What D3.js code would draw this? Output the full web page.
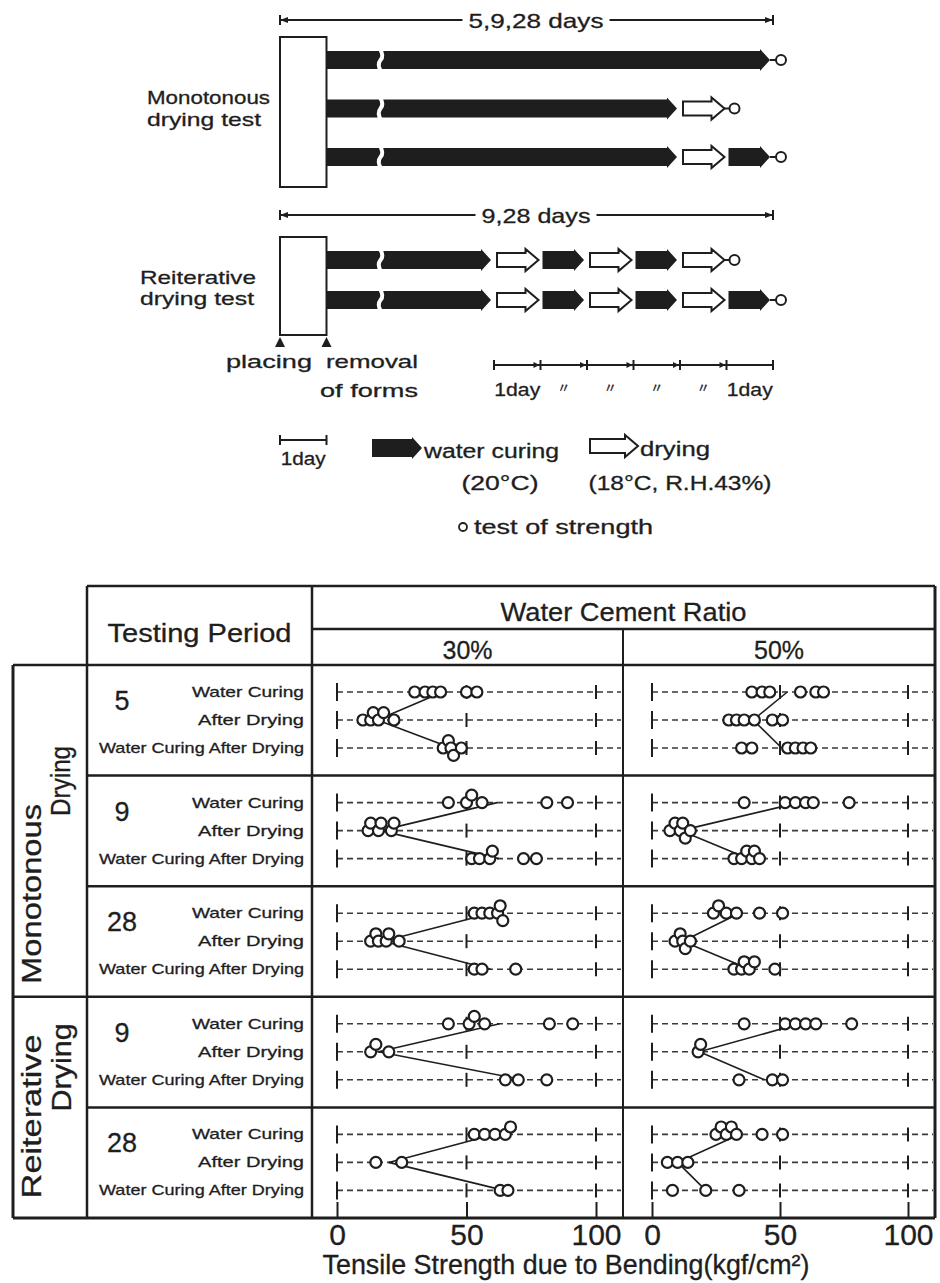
<!DOCTYPE html>
<html><head><meta charset="utf-8">
<script src="https://cdn.jsdelivr.net/npm/d3@7/dist/d3.min.js"></script>
<style>
body{margin:0;background:#fff;}
svg{display:block;}
text{font-family:"Liberation Sans","DejaVu Sans",sans-serif;fill:#1e1e1e;stroke:#1e1e1e;stroke-width:0.3;}
</style></head><body>
<svg id="chart" width="940" height="1283"></svg>
<script>
// ---------------- DATA ----------------
// top schedule diagram (segment sequence per specimen, days before the common end)
const monoSchedules = [["water"], ["water","dry"], ["water","dry","water"]];
const monoEndDay = [0, 1, 0];
const reitSchedules = [["water","dry","water","dry","water","dry"], ["water","dry","water","dry","water","dry","water"]];
const reitEndDay = [1, 0];
const dayScaleLabels = ["1day","〃","〃","〃","〃","1day"];

// table
const groupLabels = [["Monotonous","Drying"], ["Reiterative","Drying"]];
const periodLabels = ["5","9","28","9","28"];
const conditions = ["Water Curing","After Drying","Water Curing After Drying"];
const ratios = ["30%","50%"];
const axisTicks = [0,50,100];

// tensile strength due to bending (kgf/cm2): [Water Curing, After Drying, Water Curing After Drying]
const mono5_30  = [[30,34,37,40,50,54],[10,13,14,16,18,22],[41,43,44,45,48]];
const mono9_30  = [[43,50,52,56,81,89],[12,13,16,17,21,22],[52,55,59,60,72,77]];
const mono28_30 = [[53,56,59,62,63,64],[13,15,16,19,20,24],[53,56,69]];
const reit9_30  = [[43,51,53,57,82,91],[13,15,20],[65,70,81]];
const reit28_30 = [[53,57,61,65,67],[15,25],[63,66]];
const mono5_50  = [[39,43,46,58,64,67],[30,33,36,40,47,51],[35,39,53,56,59,62]];
const mono9_50  = [[36,52,56,60,63,77],[7,9,11,12,13,15],[32,35,37,39,40,42]];
const mono28_50 = [[24,26,29,33,42,51],[9,11,12,13,15],[32,35,36,38,40,48]];
const reit9_50  = [[36,52,56,60,64,78],[18,19],[34,47,51]];
const reit28_50 = [[25,27,29,31,33,43,51],[6,10,14],[8,21,34]];
const tableData = [[mono5_30,mono5_50],[mono9_30,mono9_50],[mono28_30,mono28_50],[reit9_30,reit9_50],[reit28_30,reit28_50]];

// ---------------- DRAW ----------------
const svg = d3.select("#chart");
const ink = "#1e1e1e";

function txt(g, x, y, s, size, opts) {
  opts = opts || {};
  const t = g.append("text").attr("x", x).attr("y", y).text(s)
    .attr("font-size", size).attr("text-anchor", opts.anchor || "start");
  if (opts.len) t.attr("textLength", opts.len).attr("lengthAdjust", "spacingAndGlyphs");
  if (opts.rotate) t.attr("transform", `rotate(-90,${x},${y})`);
  return t;
}

// ---- top diagram
const topG = svg.append("g");
const dayPx = 46.5, xPlace = 280, xFinish = 773;
const fromEnd = d3.scaleLinear().domain([0, 1]).range([xFinish, xFinish - dayPx]);
const fromStart = d3.scaleLinear().domain([0, 1]).range([xPlace, xPlace + dayPx]);

function waterShape(x0, x1, y) {
  return `M${x0},${y-9}L${x1-10},${y-9}L${x1-10},${y-11}L${x1},${y}L${x1-10},${y+11}L${x1-10},${y+9}L${x0},${y+9}Z`;
}
function dryShape(x0, x1, y) {
  return `M${x0},${y-7}L${x1-13},${y-7}L${x1-13},${y-11}L${x1},${y}L${x1-13},${y+11}L${x1-13},${y+7}L${x0},${y+7}Z`;
}
function drawSchedule(segs, endDay, y) {
  const n = segs.length;
  segs.forEach((type, i) => {
    const x1 = fromEnd(endDay + (n - 1 - i));
    const x0 = i === 0 ? fromStart(1) : fromEnd(endDay + (n - i));
    if (type === "water") {
      topG.append("path").attr("d", waterShape(x0 + (i === 0 ? 0 : 2), x1 - 3, y)).attr("fill", ink);
    } else {
      topG.append("path").attr("d", dryShape(x0 + 3, x1 - 2, y)).attr("fill", "#fff")
        .attr("stroke", ink).attr("stroke-width", 2);
    }
    if (i === 0) {
      const bx = fromStart(1) + 53;
      topG.append("path").attr("d", `M${bx},${y-12}Q${bx+5},${y-4} ${bx+1},${y}Q${bx-3},${y+5} ${bx+2},${y+12}`)
        .attr("fill", "none").attr("stroke", "#fff").attr("stroke-width", 4);
    }
  });
  const xe = fromEnd(endDay);
  topG.append("line").attr("x1", xe - 3).attr("x2", xe + 3).attr("y1", y).attr("y2", y).attr("stroke", ink).attr("stroke-width", 2);
  topG.append("circle").attr("cx", xe + 8).attr("cy", y).attr("r", 5).attr("fill", "#fff").attr("stroke", ink).attr("stroke-width", 2);
}
function dimLine(y, label, labelLen) {
  const x0 = fromStart(0), x1 = fromEnd(0);
  topG.append("line").attr("x1", x0).attr("x2", x1).attr("y1", y).attr("y2", y).attr("stroke", ink).attr("stroke-width", 2);
  [x0, x1].forEach(x => topG.append("line").attr("x1", x).attr("x2", x).attr("y1", y - 5).attr("y2", y + 5).attr("stroke", ink).attr("stroke-width", 2));
  topG.append("path").attr("d", `M${x0},${y}l8,-3v6z M${x1},${y}l-8,-3v6z`).attr("fill", ink);
  const cx = 536;
  topG.append("rect").attr("x", cx - labelLen / 2 - 6).attr("y", y - 10).attr("width", labelLen + 12).attr("height", 20).attr("fill", "#fff");
  txt(topG, cx, y + 8, label, 21, {anchor: "middle", len: labelLen});
}

// monotonous
dimLine(20, "5,9,28 days", 135);
topG.append("rect").attr("x", fromStart(0)).attr("y", 37).attr("width", dayPx).attr("height", 150)
  .attr("fill", "#fff").attr("stroke", ink).attr("stroke-width", 2);
const monoY = d3.scalePoint().domain(d3.range(monoSchedules.length)).range([60, 157]);
monoSchedules.forEach((s, i) => drawSchedule(s, monoEndDay[i], monoY(i)));
txt(topG, 147, 104, "Monotonous", 19, {len: 123});
txt(topG, 147, 126, "drying test", 19, {len: 114});

// reiterative
dimLine(215, "9,28 days", 109);
topG.append("rect").attr("x", fromStart(0)).attr("y", 237).attr("width", dayPx).attr("height", 98)
  .attr("fill", "#fff").attr("stroke", ink).attr("stroke-width", 2);
const reitY = d3.scalePoint().domain(d3.range(reitSchedules.length)).range([260, 300]);
reitSchedules.forEach((s, i) => drawSchedule(s, reitEndDay[i], reitY(i)));
txt(topG, 140, 284, "Reiterative", 19, {len: 116});
txt(topG, 140, 305, "drying test", 19, {len: 114});

// placing / removal markers
[fromStart(0), fromStart(1)].forEach(x => topG.append("path").attr("d", `M${x},${337}l-5,10h10z`).attr("fill", ink));
txt(topG, 226, 368, "placing", 19, {len: 86});
txt(topG, 326, 368, "removal", 19, {len: 92});
txt(topG, 320, 397, "of forms", 19, {len: 98});

// 1-day scale
const scaleDays = d3.range(dayScaleLabels.length + 1);
topG.append("line").attr("x1", fromEnd(6)).attr("x2", fromEnd(0)).attr("y1", 365).attr("y2", 365).attr("stroke", ink).attr("stroke-width", 2);
scaleDays.forEach(d => {
  const x = fromEnd(d);
  topG.append("line").attr("x1", x).attr("x2", x).attr("y1", 360).attr("y2", 370).attr("stroke", ink).attr("stroke-width", 2);
  if (d > 0 && d < 6) topG.append("path").attr("d", `M${x-1},${365}l-6,-3v6z`).attr("fill", ink);
});
dayScaleLabels.forEach((s, i) => {
  const cx = (fromEnd(5 - i) + fromEnd(6 - i)) / 2;
  if (s === "1day") txt(topG, cx, 396, s, 19, {anchor: "middle", len: 46});
  else txt(topG, cx, 392, s, 13, {anchor: "middle"}).style("font-family", "'Noto Sans CJK JP',sans-serif");
});

// legend
const lg = svg.append("g");
lg.append("line").attr("x1", fromStart(0)).attr("x2", fromStart(1)).attr("y1", 440).attr("y2", 440).attr("stroke", ink).attr("stroke-width", 2);
[fromStart(0), fromStart(1)].forEach(x => lg.append("line").attr("x1", x).attr("x2", x).attr("y1", 435).attr("y2", 445).attr("stroke", ink).attr("stroke-width", 2));
txt(lg, (fromStart(0) + fromStart(1)) / 2, 465, "1day", 18, {anchor: "middle", len: 45});
lg.append("path").attr("d", waterShape(372, 422, 448)).attr("fill", ink);
txt(lg, 424, 458, "water curing", 20, {len: 135});
txt(lg, 500, 490, "(20°C)", 20, {anchor: "middle", len: 77});
lg.append("path").attr("d", dryShape(590, 638, 446)).attr("fill", "#fff").attr("stroke", ink).attr("stroke-width", 2);
txt(lg, 640, 456, "drying", 20, {len: 70});
txt(lg, 680, 490, "(18°C, R.H.43%)", 20, {anchor: "middle", len: 183});
lg.append("circle").attr("cx", 463).attr("cy", 527).attr("r", 4).attr("fill", "#fff").attr("stroke", ink).attr("stroke-width", 1.8);
txt(lg, 474, 534, "test of strength", 20, {len: 179});

// ---- table
const tb = svg.append("g");
const tLeft = 13, tPeriod = 87, tCol = 312, tMid = 623, tRight = 935;
const tTop = 586, tHead1 = 629, tHead2 = 665, tBottom = 1218;
const rowBand = d3.scaleBand().domain(d3.range(periodLabels.length)).range([tHead2, tBottom]);
const condY = d3.scaleLinear().domain([0, 2]).range([27, 83]);
const xScales = [d3.scaleLinear().domain([0, 100]).range([337, 596]), d3.scaleLinear().domain([0, 100]).range([652, 908])];
const colEdges = [[tCol, tMid], [tMid, tRight]];

function hline(x1, x2, y, w) { tb.append("line").attr("x1", x1).attr("x2", x2).attr("y1", y).attr("y2", y).attr("stroke", ink).attr("stroke-width", w || 2.5); }
function vline(x, y1, y2, w) { tb.append("line").attr("x1", x).attr("x2", x).attr("y1", y1).attr("y2", y2).attr("stroke", ink).attr("stroke-width", w || 2.5); }

// header text
txt(tb, (tCol + tRight) / 2, 621, "Water Cement Ratio", 26, {anchor: "middle", len: 246});
txt(tb, (tPeriod + tCol) / 2, 642, "Testing Period", 25, {anchor: "middle", len: 184});
ratios.forEach((r, i) => txt(tb, (colEdges[i][0] + colEdges[i][1]) / 2, 659, r, 26, {anchor: "middle", len: 50}));

// group labels (rotated)
const groupSpan = [[0, 2], [3, 4]];
groupLabels.forEach((lab, gi) => {
  const y0 = rowBand(groupSpan[gi][0]), y1 = rowBand(groupSpan[gi][1]) + rowBand.bandwidth();
  if (gi === 0) {
    txt(tb, 41, (y0 + y1) / 2 + 63, lab[0], 27, {anchor: "middle", len: 180, rotate: true});
    txt(tb, 70, (y0 + y1) / 2 - 50, lab[1], 27, {anchor: "middle", len: 70, rotate: true});
  } else {
    txt(tb, 41, (y0 + y1) / 2 + 9, lab[0], 27, {anchor: "middle", len: 164, rotate: true});
    txt(tb, 71, (y0 + y1) / 2 - 40, lab[1], 27, {anchor: "middle", len: 88, rotate: true});
  }
});

// rows
const condLen = [112, 106, 205];
periodLabels.forEach((p, ri) => {
  const y0 = rowBand(ri);
  txt(tb, 122, y0 + 45, p, 27, {anchor: "middle"});
  conditions.forEach((c, ci) => txt(tb, 304, y0 + condY(ci) + 5, c, 15, {anchor: "end", len: condLen[ci]}));

  ratios.forEach((r, k) => {
    const x = xScales[k];
    const cell = tableData[ri][k];
    const g = tb.append("g");
    const lineY = ci => y0 + condY(ci);
    conditions.forEach((c, ci) => {
      const yy = lineY(ci);
      g.append("line").attr("x1", x(0)).attr("x2", colEdges[k][1] - 2).attr("y1", yy).attr("y2", yy)
        .attr("stroke", "#3a3a3a").attr("stroke-width", 1.6).attr("stroke-dasharray", "6,4");
      axisTicks.forEach(t => g.append("line").attr("x1", x(t)).attr("x2", x(t))
        .attr("y1", yy - (t === 0 ? 9 : 7)).attr("y2", yy + (t === 0 ? 9 : 7)).attr("stroke", ink).attr("stroke-width", 2));
    });
    const m = cell.map(a => d3.mean(a));
    [0, 2].forEach(ci => g.append("line").attr("x1", x(m[1])).attr("y1", lineY(1)).attr("x2", x(m[ci])).attr("y2", lineY(ci))
      .attr("stroke", ink).attr("stroke-width", 1.6));
    const r0 = 5.5, step = r0 * 1.35, dmin = r0 * 1.05;
    cell.forEach((vals, ci) => {
      const placed = [];
      vals.slice().sort((a, b) => a - b).forEach(v => {
        const px = x(v);
        for (const dy of [0, -step, step, -2 * step, 2 * step]) {
          if (placed.every(q => Math.hypot(q.x - px, q.dy - dy) >= dmin)) { placed.push({x: px, dy}); break; }
        }
      });
      g.selectAll(null).data(placed).join("circle")
        .attr("cx", d => d.x).attr("cy", d => lineY(ci) + d.dy).attr("r", r0)
        .attr("fill", "#fff").attr("stroke", ink).attr("stroke-width", 2.2);
    });
  });
});

// grid lines
hline(tPeriod, tRight, tTop);
hline(tCol, tRight, tHead1);
hline(tLeft, tRight, tHead2);
rowBand.domain().slice(1).forEach(i => hline(i === 3 ? tLeft : tPeriod, tRight, rowBand(i)));
hline(tLeft, tRight, tBottom, 3);
vline(tLeft, tHead2, tBottom, 3);
vline(tPeriod, tTop, tBottom);
vline(tCol, tTop, tBottom);
vline(tMid, tHead1, tBottom, 2);
vline(tRight, tTop, tBottom, 3);

// bottom axes
xScales.forEach((x, k) => {
  const ax = svg.append("g").attr("transform", `translate(0,${tBottom})`)
    .call(d3.axisBottom(x).tickValues(axisTicks).tickSizeInner(-16).tickSizeOuter(0).tickPadding(6));
  ax.select(".domain").remove();
  ax.selectAll(".tick line").attr("stroke", ink).attr("stroke-width", 2);
  ax.selectAll(".tick text").attr("font-size", 30).attr("fill", ink)
    .style("font-family", "'Liberation Sans Narrow','Liberation Sans',sans-serif");
});
txt(svg, 566, 1274, "Tensile Strength due to Bending(kgf/cm²)", 27, {anchor: "middle", len: 487});
</script>
</body></html>
